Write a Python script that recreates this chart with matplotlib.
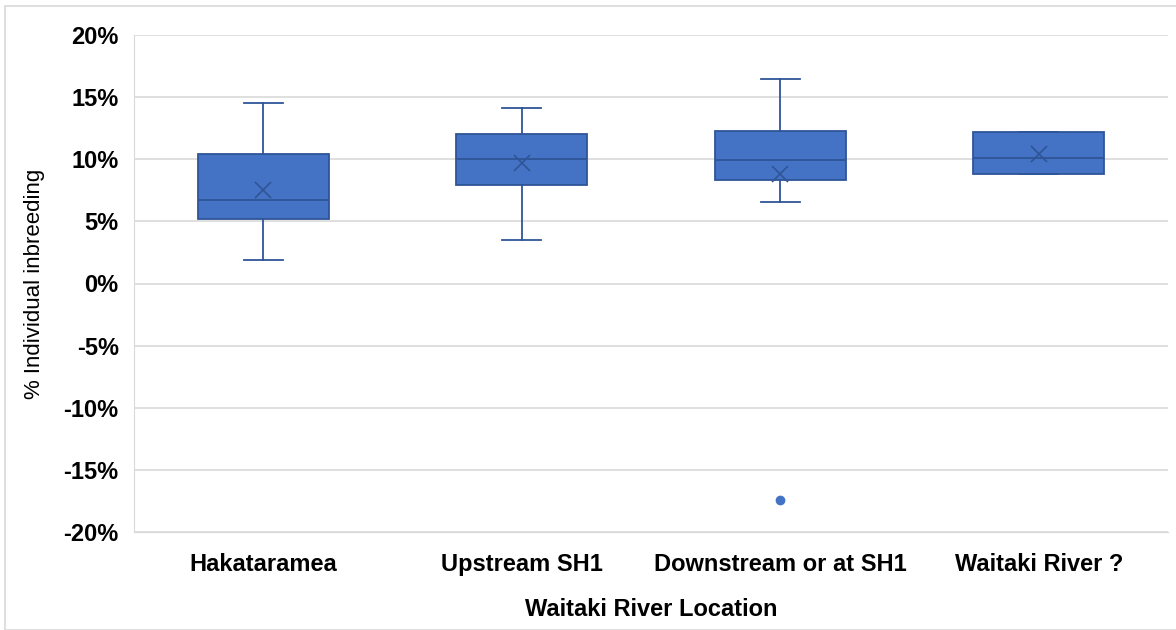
import numpy as np
import matplotlib.pyplot as plt
from matplotlib.ticker import PercentFormatter
from matplotlib.patches import Rectangle

plt.rcParams['font.family'] = ['Liberation Sans', 'DejaVu Sans']
plt.rcParams['axes.unicode_minus'] = False

# values in percent
locations = ["Hakataramea", "Upstream SH1", "Downstream or at SH1", "Waitaki River ?"]
whislo = [1.9, 3.5, 6.55, 8.85]
q1 = [5.2, 7.9, 8.3, 8.85]
med = [6.75, 10.0, 9.95, 10.1]
q3 = [10.45, 12.05, 12.3, 12.2]
whishi = [14.5, 14.1, 16.45, 12.2]
means = [7.5, 9.7, 8.8, 10.4]
outliers = [[], [], [-17.4], []]

yticks = [-20, -15, -10, -5, 0, 5, 10, 15, 20]

fill = "#4472C4"
dark = "#2F5597"

stats = []
for i in range(len(locations)):
    stats.append(dict(label=locations[i], whislo=whislo[i], q1=q1[i], med=med[i],
                      q3=q3[i], whishi=whishi[i], mean=means[i], fliers=outliers[i]))

fig = plt.figure(figsize=(11.76, 6.3), dpi=100)
ax = fig.add_axes([134/1176, 98/630, 1034/1176, 497/630])

ax.bxp(stats, positions=range(len(locations)), widths=0.505, patch_artist=True,
       showmeans=True, capwidths=0.15,
       boxprops=dict(facecolor=fill, edgecolor=dark, linewidth=1.3),
       medianprops=dict(color=dark, linewidth=1.3),
       whiskerprops=dict(color=dark, linewidth=1.3),
       capprops=dict(color=dark, linewidth=1.3),
       meanprops=dict(marker="x", markeredgecolor=dark, markersize=12, markeredgewidth=1.2),
       flierprops=dict(marker="o", markerfacecolor=fill, markeredgecolor=fill, markersize=6))

ax.set_xlim(-0.5, len(locations) - 0.5)
ax.set_ylim(-20, 20)
ax.set_yticks(yticks)
ax.yaxis.set_major_formatter(PercentFormatter(decimals=0))
ax.grid(axis="y", color="#D9D9D9", linewidth=1.2)
ax.set_axisbelow(True)
ax.tick_params(length=0, labelsize=17)
ax.tick_params(axis="y", pad=11)
ax.tick_params(axis="x", pad=15)
for lab in ax.get_xticklabels() + ax.get_yticklabels():
    lab.set_fontweight("bold")

for side in ["top", "right"]:
    ax.spines[side].set_visible(False)
for side in ["left", "bottom"]:
    ax.spines[side].set_color("#D9D9D9")

ax.set_xlabel("Waitaki River Location", fontsize=17, fontweight="bold", labelpad=16)
ax.set_ylabel("% Individual inbreeding", fontsize=16, labelpad=13)

fig.patches.append(Rectangle((5/1176, 0), 1, 624/630, transform=fig.transFigure,
                             fill=False, edgecolor="#D9D9D9", linewidth=1.2))

fig.savefig("out.png", dpi=100)
